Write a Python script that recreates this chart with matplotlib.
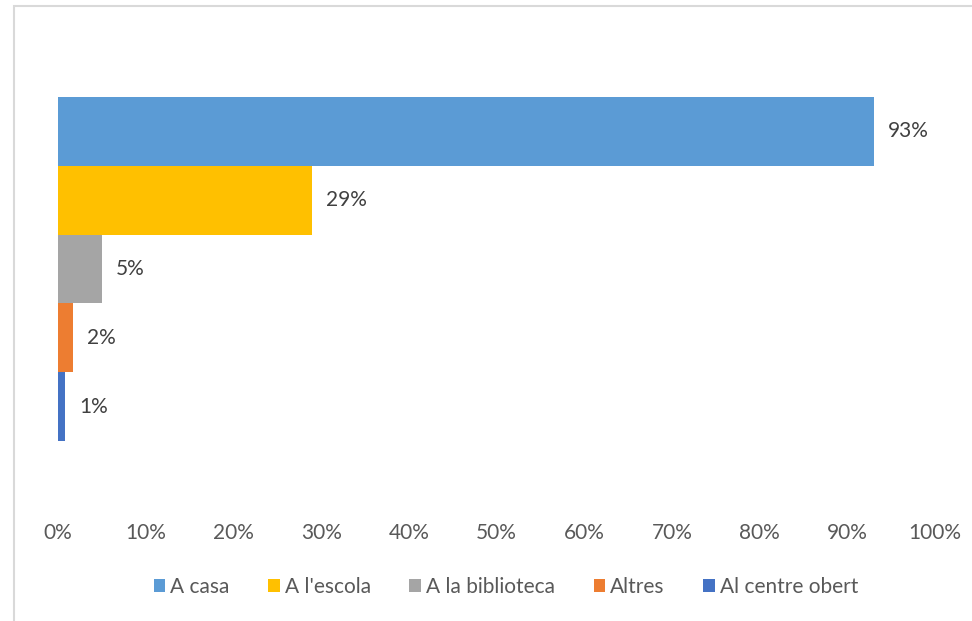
import matplotlib.pyplot as plt
from matplotlib.patches import Rectangle

# dades
categories = ["A casa", "A l'escola", "A la biblioteca", "Altres", "Al centre obert"]
valors = [93, 29, 5, 1.7, 0.8]
colors = ["#5b9bd5", "#ffc000", "#a5a5a5", "#ed7d31", "#4472c4"]
ticks = [0, 10, 20, 30, 40, 50, 60, 70, 80, 90, 100]

plt.rcParams['font.family'] = ['Lato', 'DejaVu Sans']

W, H = 972, 621
fig = plt.figure(figsize=(W / 100, H / 100), dpi=100)

# marc del gràfic
fig.patches.append(Rectangle((14 / W, -0.1), 1.2, 1.1 - 6 / H, transform=fig.transFigure,
                             fill=False, edgecolor="#d9d9d9", linewidth=1.5))

ax = fig.add_axes([58 / W, 1 - 515 / H, (935 - 58) / W, (515 - 30) / H])

for i, (cat, v, c) in enumerate(zip(categories, valors, colors)):
    ax.barh(-i, v, height=1.0, color=c, label=cat)
    ax.text(v + 1.6, -i, f"{round(v):.0f}%", va="center", ha="left",
            fontsize=15, color="#404040")

ax.set_xlim(0, 100)
ax.set_ylim(-5.576, 1.474)
ax.set_xticks(ticks)
ax.set_xticklabels([f"{t}%" for t in ticks], fontsize=15, color="#595959")
ax.set_yticks([])
ax.tick_params(axis="x", length=0, pad=6)
for s in ax.spines.values():
    s.set_visible(False)

ax.legend(loc="center", bbox_to_anchor=(506 / W, 1 - 587 / H), bbox_transform=fig.transFigure,
          ncol=5, frameon=False, fontsize=15, handlelength=0.55, handleheight=0.55,
          handletextpad=0.25, columnspacing=1.85, labelcolor="#595959")

fig.savefig("out.png", dpi=100)
